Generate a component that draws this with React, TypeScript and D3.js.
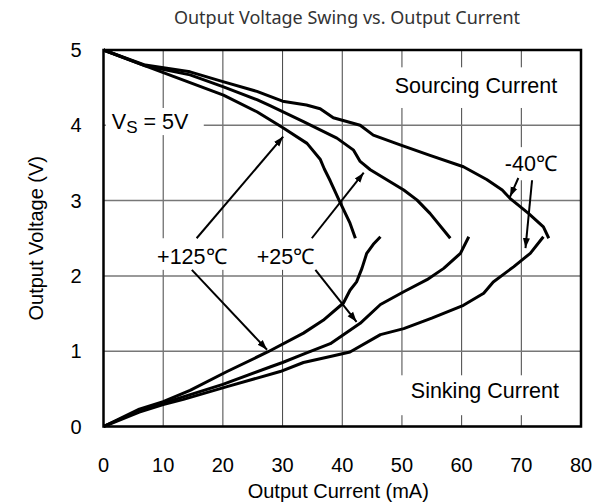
import * as d3 from "d3";

const W = 611;
const H = 504;
const MARGIN = { top: 50, right: 30, bottom: 77.5, left: 103.5 };

const xTicks = [0, 10, 20, 30, 40, 50, 60, 70, 80];
const yTicks = [0, 1, 2, 3, 4, 5];

// sourcing curves (mA, V)
const srcM40 = [
  [0, 5], [7, 4.8], [14.5, 4.71], [20, 4.58], [25.7, 4.45], [30, 4.32], [34, 4.27],
  [36.3, 4.22], [38.5, 4.1], [43, 4.0], [45.2, 3.87], [49.7, 3.74], [54.7, 3.6],
  [60.3, 3.45], [64.2, 3.28], [66.8, 3.14], [68.1, 3.03], [71.2, 2.83], [73.7, 2.65],
  [74.6, 2.5],
];
const src25 = [
  [0, 5], [7, 4.79], [14.5, 4.67], [20.1, 4.51], [25.7, 4.34], [27.9, 4.26], [33.5, 4.05],
  [39.1, 3.83], [41.9, 3.67], [43, 3.52], [44.7, 3.41], [50.3, 3.14], [52.5, 3.01],
  [54.7, 2.83], [58.1, 2.5],
];
const src125 = [
  [0, 5], [6, 4.82], [11.7, 4.65], [20.1, 4.4], [25.7, 4.18], [30, 3.97], [34.1, 3.76],
  [36.3, 3.55], [37, 3.42], [38, 3.26], [39.5, 3.0], [41.3, 2.7], [42.2, 2.5],
];

// sinking curves
const snk125 = [
  [0, 0], [6, 0.23], [10, 0.33], [14.5, 0.48], [20.7, 0.73], [27.5, 0.99], [33.5, 1.24],
  [36.8, 1.41], [40.2, 1.64], [41.3, 1.81], [42.4, 1.92], [43.3, 2.1], [44.1, 2.3],
  [45.2, 2.42], [46.4, 2.52],
];
const snk25 = [
  [0, 0], [6, 0.21], [10, 0.31], [20, 0.56], [27.9, 0.79], [30, 0.85], [33.5, 0.96],
  [38, 1.1], [43, 1.37], [46.4, 1.62], [50.3, 1.79], [54.2, 1.95], [57, 2.1],
  [59.8, 2.3], [61.2, 2.52],
];
const snkM40 = [
  [0, 0], [6, 0.19], [10, 0.29], [13.4, 0.36], [20.7, 0.53], [29.6, 0.73], [33.5, 0.85],
  [38, 0.93], [41.3, 0.99], [46.4, 1.22], [50.3, 1.3], [55, 1.44], [60.3, 1.61],
  [63.7, 1.77], [65.3, 1.92], [68.7, 2.12], [70.4, 2.23], [71.5, 2.3], [73.7, 2.52],
];

const curves = [srcM40, src25, src125, snk125, snk25, snkM40];

// annotation arrows: [x1, y1, x2, y2] in data units
const arrows = [
  [15.6, 2.5, 30.1, 3.85],
  [14.8, 2.08, 27.4, 1.02],
  [34.9, 2.5, 43.6, 3.37],
  [35.5, 2.08, 42.4, 1.39],
  [69.5, 3.3, 68.1, 3.05],
  [71.8, 3.27, 70.7, 2.37],
];

// label boxes [x0, x1, y0, y1] hiding the grid
const boxes = [
  [47.7, 77.4, 4.23, 4.77],
  [49.7, 77.4, 0.15, 0.68],
  [0.4, 16.8, 3.87, 4.23],
  [8.1, 21.4, 2.08, 2.5],
  [24.9, 36, 2.08, 2.5],
  [66.5, 76.9, 3.27, 3.71],
];

const labels = [
  { text: "Sourcing Current", x: 62.4, y: 4.53 },
  { text: "Sinking Current", x: 63.9, y: 0.48 },
  { text: "+125℃", x: 14.8, y: 2.26 },
  { text: "+25℃", x: 30.5, y: 2.26 },
  { text: "-40℃", x: 71.6, y: 3.49 },
];

const FONT = "'Liberation Sans', Arial, sans-serif";

export default function App() {
  const bw = W - MARGIN.left - MARGIN.right;
  const bh = H - MARGIN.top - MARGIN.bottom;
  const x = d3.scaleLinear().domain([0, 80]).range([0, bw]);
  const y = d3.scaleLinear().domain([0, 5]).range([bh, 0]);
  const line = d3
    .line<number[]>()
    .x((d) => x(d[0]))
    .y((d) => y(d[1]));

  return (
    <svg width={W} height={H} style={{ position: "absolute", left: 0, top: 0 }}>
      <defs>
        <marker
          id="ah"
          viewBox="0 0 10 10"
          refX={10}
          refY={5}
          markerWidth={10}
          markerHeight={10}
          markerUnits="userSpaceOnUse"
          orient="auto"
        >
          <path d="M0,1.5 L10,5 L0,8.5 Z" fill="#000" />
        </marker>
      </defs>
      <text
        x={347}
        y={24}
        textAnchor="middle"
        fontFamily="'Noto Sans', sans-serif"
        fontSize={18}
        fill="#333"
      >
        Output Voltage Swing vs. Output Current
      </text>
      <g transform={`translate(${MARGIN.left},${MARGIN.top})`}>
        {/* grid */}
        {xTicks.map((t) => (
          <line key={"gx" + t} x1={x(t)} x2={x(t)} y1={0} y2={bh} stroke="#444" strokeWidth={1} />
        ))}
        {yTicks.map((t) => (
          <line key={"gy" + t} x1={0} x2={bw} y1={y(t)} y2={y(t)} stroke="#777" strokeWidth={1.5} />
        ))}
        {boxes.map((b, i) => (
          <rect
            key={"b" + i}
            x={x(b[0])}
            y={y(b[3])}
            width={x(b[1]) - x(b[0])}
            height={y(b[2]) - y(b[3])}
            fill="#fff"
          />
        ))}
        <rect x={0} y={0} width={bw} height={bh} fill="none" stroke="#000" strokeWidth={2.5} />
        {/* curves */}
        {curves.map((c, i) => (
          <path key={"c" + i} d={line(c) || ""} fill="none" stroke="#000" strokeWidth={3} strokeLinejoin="round" />
        ))}
        {/* arrows */}
        {arrows.map((a, i) => (
          <line
            key={"a" + i}
            x1={x(a[0])}
            y1={y(a[1])}
            x2={x(a[2])}
            y2={y(a[3])}
            stroke="#000"
            strokeWidth={2}
            markerEnd="url(#ah)"
          />
        ))}
        {/* labels */}
        {labels.map((l) => (
          <text
            key={l.text}
            x={x(l.x)}
            y={y(l.y)}
            dy="0.35em"
            textAnchor="middle"
            fontFamily={FONT}
            fontSize={21.5}
            fill="#000"
          >
            {l.text}
          </text>
        ))}
        <text x={x(1.4)} y={y(4.05)} dy="0.35em" fontFamily={FONT} fontSize={21.5}>
          V
          <tspan fontSize={17} dy={4}>S</tspan>
          <tspan dy={-4}> = 5V</tspan>
        </text>
        {/* axes labels */}
        {xTicks.map((t) => (
          <text key={"tx" + t} x={x(t)} y={bh + 45} textAnchor="middle" fontFamily={FONT} fontSize={20}>
            {t}
          </text>
        ))}
        {yTicks.map((t) => (
          <text key={"ty" + t} x={-22} y={y(t)} dy="0.35em" textAnchor="end" fontFamily={FONT} fontSize={20}>
            {t}
          </text>
        ))}
        <text x={bw / 2 - 4} y={bh + 71} textAnchor="middle" fontFamily={FONT} fontSize={20}>
          Output Current (mA)
        </text>
        <text
          transform={`translate(-68,${bh / 2}) rotate(-90)`}
          textAnchor="middle"
          dy="0.35em"
          fontFamily={FONT}
          fontSize={20}
        >
          Output Voltage (V)
        </text>
      </g>
    </svg>
  );
}
